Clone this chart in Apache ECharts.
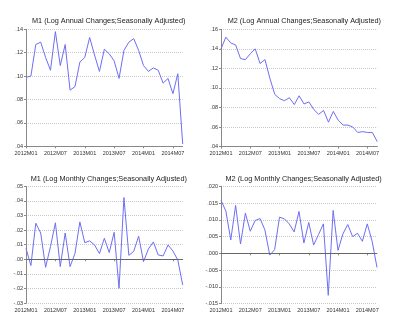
<!DOCTYPE html>
<html><head><meta charset="utf-8">
<script src="https://cdn.jsdelivr.net/npm/echarts@6/dist/echarts.min.js"></script>
<style>html,body{margin:0;padding:0;background:#fff}#c{width:400px;height:326px}</style>
</head><body><div id="c"></div>
<script>
const months = [];
for (let y = 2012; y <= 2014; y++) for (let m = 1; m <= 12; m++) {
  if (y === 2014 && m > 9) break;
  months.push(y + 'M' + String(m).padStart(2, '0'));
}
const titles = [
  'M1 (Log Annual Changes;Seasonally Adjusted)',
  'M2 (Log Annual Changes;Seasonally Adjusted)',
  'M1 (Log Monthly Changes;Seasonally Adjusted)',
  'M2 (Log Monthly Changes;Seasonally Adjusted)'
];
const m1Annual = [0.099,0.100,0.127,0.129,0.116,0.105,0.138,0.109,0.127,0.088,0.091,0.112,
  0.116,0.133,0.118,0.104,0.123,0.119,0.113,0.098,0.122,0.129,0.132,0.122,
  0.109,0.104,0.107,0.105,0.094,0.098,0.085,0.102,0.042];
const m2Annual = [0.140,0.152,0.146,0.144,0.130,0.129,0.135,0.140,0.125,0.129,0.110,0.0935,
  0.089,0.087,0.090,0.083,0.092,0.0836,0.0857,0.078,0.073,0.077,0.065,0.076,
  0.067,0.062,0.062,0.060,0.0545,0.0553,0.0545,0.0543,0.045];
const m1Monthly = [0.0075,-0.0043,0.0247,0.018,-0.0055,0.0087,0.025,-0.005,0.018,-0.005,0.004,0.0256,
  0.0114,0.0126,0.0098,0.0039,0.0144,0.0046,0.0185,-0.0199,0.0423,0.0027,0.0055,0.0158,
  -0.0016,0.0071,0.0119,0.003,0.0023,0.0098,0.0057,-0.0005,-0.0176];
const m2Monthly = [0.0158,0.0126,0.0040,0.0143,0.0028,0.0120,0.0066,0.0098,0.0104,0.0070,-0.0005,0.0011,
  0.0108,0.0103,0.0088,0.0064,0.0125,0.0031,0.0092,0.0025,0.0056,0.0088,-0.0125,0.0128,
  0.0009,0.0058,0.0086,0.0050,0.0060,0.0036,0.0088,0.0036,-0.0042];
const yMin = [0.04, 0.04, -0.03, -0.015];
const yMax = [0.14, 0.16, 0.05, 0.020];
const yInterval = [0.02, 0.02, 0.01, 0.005];
const yDecimals = [2, 2, 2, 3];
const seriesData = [m1Annual, m2Annual, m1Monthly, m2Monthly];

const grids = [
  {left: 26, top: 29.3, width: 156.7, height: 117},
  {left: 221, top: 29.3, width: 156.3, height: 117.3},
  {left: 26, top: 186.3, width: 156.7, height: 116.8},
  {left: 221, top: 186.3, width: 156, height: 117.4}
];
const titlePos = [[103.7, 12], [299.3, 12], [103.8, 170.3], [298.6, 170.3]];
const FONT = 'Liberation Sans';
const option = {
  animation: false,
  backgroundColor: '#fff',
  title: titles.map((t, i) => ({
    text: t, left: titlePos[i][0], top: titlePos[i][1], textAlign: 'center',
    textStyle: {fontSize: 7.3, fontWeight: 'normal', color: '#222', fontFamily: FONT, lineHeight: 8}
  })),
  grid: grids,
  xAxis: grids.map((g, i) => ({
    type: 'category', gridIndex: i, data: months, boundaryGap: false,
    axisLine: {lineStyle: {color: '#888', width: 1}},
    axisTick: {interval: 5, length: 2, lineStyle: {color: '#888'}},
    axisLabel: {interval: 5, fontSize: 5.5, color: '#333', fontFamily: FONT, margin: 4},
    splitLine: {show: false}
  })),
  yAxis: grids.map((g, i) => ({
    type: 'value', gridIndex: i, min: yMin[i], max: yMax[i], interval: yInterval[i],
    axisLine: {show: true, lineStyle: {color: '#888', width: 1}},
    axisTick: {show: true, length: 2, lineStyle: {color: '#888'}},
    axisLabel: {fontSize: 5.5, color: '#333', fontFamily: FONT, margin: 3,
      formatter: v => v.toFixed(yDecimals[i]).replace(/^(-?)0\./, '$1.')},
    splitLine: {show: true, lineStyle: {color: '#c8c8c8', type: [1, 1], width: 1}}
  })),
  series: seriesData.map((d, i) => {
    const s = {
      type: 'line', xAxisIndex: i, yAxisIndex: i, data: d, symbol: 'none',
      lineStyle: {color: '#6e6ef5', width: 1}, itemStyle: {color: '#6e6ef5'}
    };
    if (i >= 2) {
      s.markLine = {silent: true, symbol: 'none', label: {show: false},
        lineStyle: {color: '#666', type: 'solid', width: 1}, data: [{yAxis: 0}]};
    }
    return s;
  })
};
const chart = echarts.init(document.getElementById('c'), null, {renderer: 'canvas'});
chart.setOption(option);
</script></body></html>
